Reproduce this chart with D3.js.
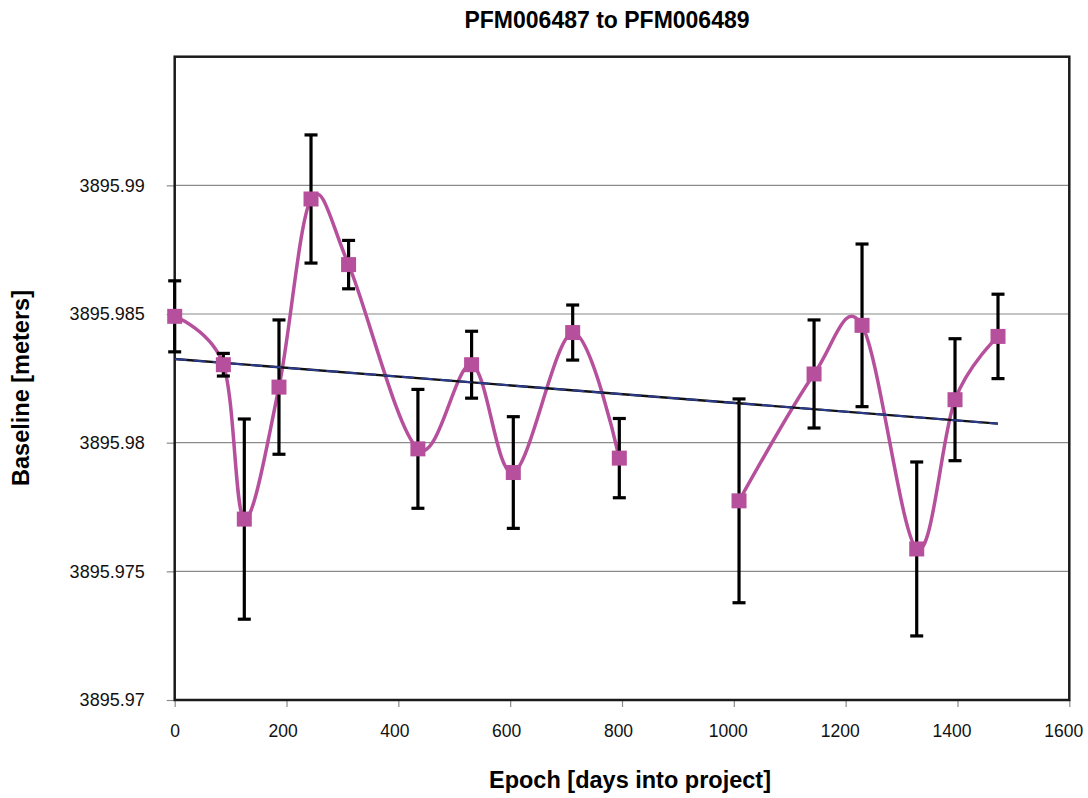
<!DOCTYPE html>
<html>
<head>
<meta charset="utf-8">
<script src="https://cdn.jsdelivr.net/npm/d3@7"></script>
<style>
  html, body { margin: 0; padding: 0; background: #fff; }
  svg { display: block; font-family: "Liberation Sans", Arial, sans-serif; }
</style>
</head>
<body>
<svg id="chart" width="1088" height="798"></svg>
<script>
// Baseline length between the two monuments at each survey epoch
const epochDays = [0, 87, 124.5, 186.5, 243.8, 311, 435, 531, 605.6, 711.8, 795.2,
                   1009.3, 1143.5, 1229.3, 1327.1, 1395.6, 1472.5];
const baselineM = [3895.98491, 3895.98303, 3895.97703, 3895.98216, 3895.98947, 3895.98692,
                   3895.97976, 3895.98303, 3895.97884, 3895.98428, 3895.97940,
                   3895.97774, 3895.98267, 3895.98456, 3895.97587, 3895.98167, 3895.98413];
const sigmaM = [0.00138, 0.00044, 0.00389, 0.00261, 0.00249, 0.00094, 0.00231, 0.00130,
                0.00217, 0.00107, 0.00154, 0.00396, 0.00210, 0.00316, 0.00338, 0.00237, 0.00164];
// observing run each epoch belongs to; the line is not joined across runs
const runId = [0, 0, 0, 0, 0, 0, 0, 0, 0, 0, 0, 1, 1, 1, 1, 1, 1];
const xTicks = [0, 200, 400, 600, 800, 1000, 1200, 1400, 1600];
const yTicks = [3895.97, 3895.975, 3895.98, 3895.985, 3895.99];

const titleText = "PFM006487 to PFM006489";
const xTitle = "Epoch [days into project]";
const yTitle = "Baseline [meters]";

const svg = d3.select("#chart");
const plot = { left: 174.7, right: 1069.3, top: 56.7, bottom: 700 };

const x = d3.scaleLinear().domain([0, 1600]).range([plot.left, plot.right]);
const y = d3.scaleLinear().domain([3895.97, 3895.995]).range([plot.bottom, plot.top]);

const pts = epochDays.map((d, i) => ({ t: d, v: baselineM[i], s: sigmaM[i], run: runId[i] }));

// horizontal grid lines
svg.append("g")
  .selectAll("line")
  .data(yTicks.slice(1))
  .join("line")
  .attr("x1", plot.left).attr("x2", plot.right)
  .attr("y1", d => y(d)).attr("y2", d => y(d))
  .attr("stroke", "#8a8a8a").attr("stroke-width", 1.2);

// axes
const yAxis = d3.axisLeft(y).tickValues(yTicks).tickSize(8).tickPadding(22)
  .tickFormat(d => d3.format(".3~f")(d));
const gy = svg.append("g").attr("transform", `translate(${plot.left},0)`).call(yAxis);
gy.select(".domain").remove();
gy.selectAll(".tick line").attr("stroke", "#8a8a8a").attr("stroke-width", 1.2);
gy.selectAll(".tick text").attr("font-size", 18).attr("fill", "#111")
  .attr("font-family", "'Liberation Sans', Arial, sans-serif");

const xAxis = d3.axisBottom(x).tickValues(xTicks).tickSize(7).tickPadding(18)
  .tickFormat(d3.format("d"));
const gx = svg.append("g").attr("transform", `translate(0,${plot.bottom})`).call(xAxis);
gx.select(".domain").remove();
gx.selectAll(".tick line").attr("stroke", "#8a8a8a").attr("stroke-width", 1.2);
gx.selectAll(".tick text").attr("font-size", 17.5).attr("fill", "#111")
  .attr("font-family", "'Liberation Sans', Arial, sans-serif")
  .attr("dx", d => -(String(d).length - 1) * 2);

// plot frame
svg.append("rect")
  .attr("x", plot.left).attr("y", plot.top)
  .attr("width", plot.right - plot.left).attr("height", plot.bottom - plot.top)
  .attr("fill", "none").attr("stroke", "#1a1a1a").attr("stroke-width", 2.5);

// least-squares trend over the epochs
const mx = d3.mean(epochDays), my = d3.mean(baselineM);
const sxy = d3.sum(pts, p => (p.t - mx) * (p.v - my));
const sxx = d3.sum(pts, p => (p.t - mx) ** 2);
const slope = sxy / sxx, icpt = my - slope * mx;
const tExt = d3.extent(epochDays);
const trend = tExt.map(t => ({ t, v: icpt + slope * t }));
const trendLine = d3.line().x(d => x(d.t)).y(d => y(d.v));

// smoothed series line, one piece per run
const smooth = d3.line().x(d => x(d.t)).y(d => y(d.v)).curve(d3.curveCardinal.tension(0));
const runs = d3.groups(pts, d => d.run).map(g => g[1]);
svg.append("g").selectAll("path").data(runs).join("path")
  .attr("d", smooth).attr("fill", "none")
  .attr("stroke", "#b6509c").attr("stroke-width", 3.5);

// error bars
const eb = svg.append("g").attr("stroke", "#000").attr("stroke-width", 3.2);
eb.selectAll("line.v").data(pts).join("line").attr("class", "v")
  .attr("x1", d => x(d.t)).attr("x2", d => x(d.t))
  .attr("y1", d => y(d.v + d.s)).attr("y2", d => y(d.v - d.s));
eb.selectAll("line.hi").data(pts).join("line").attr("class", "hi")
  .attr("x1", d => x(d.t) - 6.5).attr("x2", d => x(d.t) + 6.5)
  .attr("y1", d => y(d.v + d.s)).attr("y2", d => y(d.v + d.s));
eb.selectAll("line.lo").data(pts).join("line").attr("class", "lo")
  .attr("x1", d => x(d.t) - 6.5).attr("x2", d => x(d.t) + 6.5)
  .attr("y1", d => y(d.v - d.s)).attr("y2", d => y(d.v - d.s));

// trend line: solid black with a dashed navy overlay
svg.append("path").datum(trend).attr("d", trendLine)
  .attr("stroke", "#111").attr("stroke-width", 2.4).attr("fill", "none");
svg.append("path").datum(trend).attr("d", trendLine)
  .attr("stroke", "#2a3a8c").attr("stroke-width", 2)
  .attr("stroke-dasharray", "12,7").attr("fill", "none");

// markers
const ms = 15;
svg.append("g").selectAll("rect").data(pts).join("rect")
  .attr("x", d => x(d.t) - ms / 2).attr("y", d => y(d.v) - ms / 2)
  .attr("width", ms).attr("height", ms)
  .attr("fill", "#b6509c");

// titles
svg.append("text").attr("x", 607).attr("y", 28)
  .attr("text-anchor", "middle").attr("font-size", 23).attr("font-weight", "bold")
  .text(titleText);
svg.append("text").attr("x", 630).attr("y", 788)
  .attr("text-anchor", "middle").attr("font-size", 23.5).attr("font-weight", "bold")
  .text(xTitle);
svg.append("text")
  .attr("transform", "translate(29,388) rotate(-90)")
  .attr("text-anchor", "middle").attr("font-size", 23.5).attr("font-weight", "bold")
  .text(yTitle);
</script>
</body>
</html>
